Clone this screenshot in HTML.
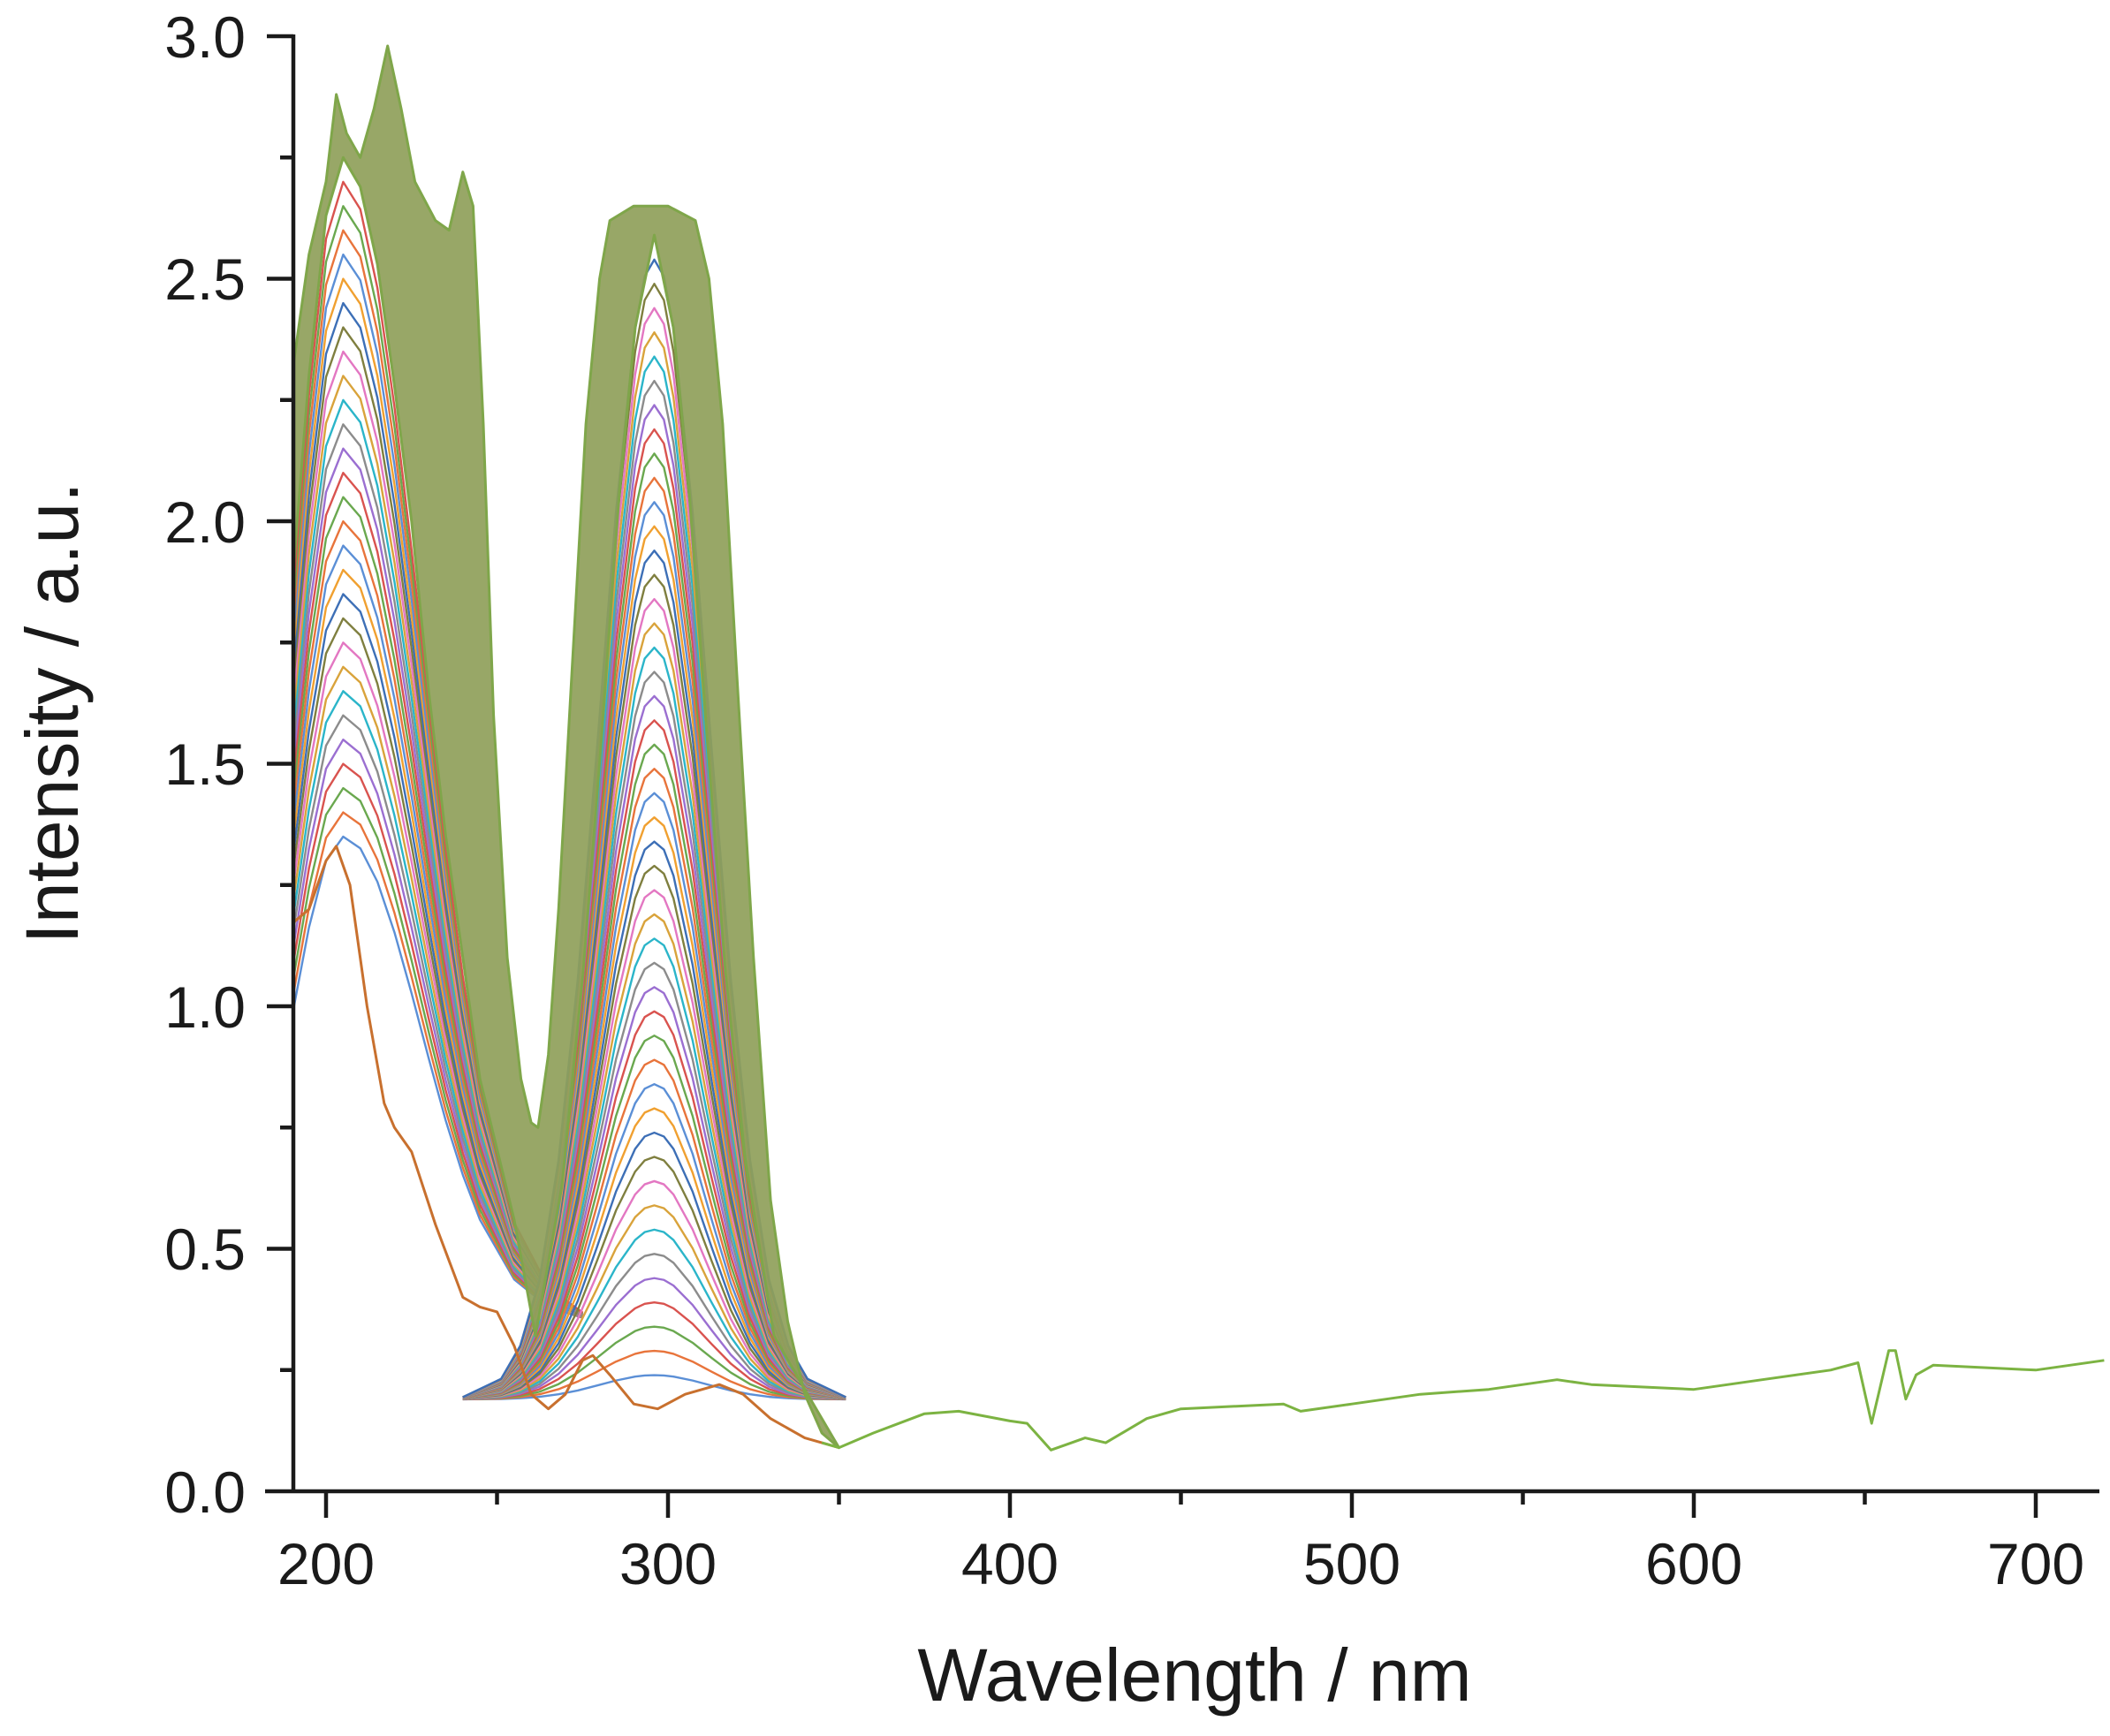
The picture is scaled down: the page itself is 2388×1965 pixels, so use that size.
<!DOCTYPE html>
<html><head><meta charset="utf-8"><style>
html,body{margin:0;padding:0;background:#fff;}
svg{display:block;}
text{font-family:"Liberation Sans",Arial,sans-serif;fill:#1a1a1a;}
</style></head><body>
<svg width="2388" height="1965" viewBox="0 0 2388 1965" xmlns="http://www.w3.org/2000/svg">
<defs>
<path id="gr" vector-effect="non-scaling-stroke" d="M-193.5,-1.1 L-154.8,-9.9 L-135.5,-25.8 L-116,-57.6 L-96.8,-115.3 L-77.4,-202 L-58,-313 L-38.7,-427.7 L-19.4,-515.5 L-9.7,-541 L0,-549 L9.7,-541 L19.4,-515.5 L38.7,-427.7 L58,-313 L77.4,-202 L96.8,-115.3 L116,-57.6 L135.5,-25.8 L154.8,-9.9 L193.5,-1.1"/>
<path id="gl" vector-effect="non-scaling-stroke" d="M-77.4,-240 L-58,-344.8 L-38.7,-446.3 L-19.4,-521.6 L0,-549 L19.4,-535.8 L38.7,-498 L58,-440.8 L77.4,-371.7 L96.8,-298.1 L116,-227.8 L135.5,-165.8 L154.8,-115.3 L193.5,-47.8 L232.2,-16.5 L270.9,-4.4"/>
<clipPath id="cp"><rect x="333" y="0" width="2100" height="1690"/></clipPath>
</defs>
<g clip-path="url(#cp)" fill="none" stroke-width="2.4" stroke-linejoin="round">
<g>
<use href="#gl" stroke="#5b8fd6" transform="translate(388.4,1496) scale(1,1.0)"/>
<use href="#gl" stroke="#e8743b" transform="translate(388.4,1496) scale(1,1.05)"/>
<use href="#gl" stroke="#6aa84f" transform="translate(388.4,1496) scale(1,1.1)"/>
<use href="#gl" stroke="#d9534f" transform="translate(388.4,1496) scale(1,1.15)"/>
<use href="#gl" stroke="#9b6fd1" transform="translate(388.4,1496) scale(1,1.2)"/>
<use href="#gl" stroke="#8c8c8c" transform="translate(388.4,1496) scale(1,1.25)"/>
<use href="#gl" stroke="#2bb5c9" transform="translate(388.4,1496) scale(1,1.3)"/>
<use href="#gl" stroke="#d9a33b" transform="translate(388.4,1496) scale(1,1.35)"/>
<use href="#gl" stroke="#e377c2" transform="translate(388.4,1496) scale(1,1.4)"/>
<use href="#gl" stroke="#7f7f3f" transform="translate(388.4,1496) scale(1,1.45)"/>
<use href="#gl" stroke="#3d6fb6" transform="translate(388.4,1496) scale(1,1.5)"/>
<use href="#gl" stroke="#f0a030" transform="translate(388.4,1496) scale(1,1.55)"/>
<use href="#gl" stroke="#5b8fd6" transform="translate(388.4,1496) scale(1,1.6)"/>
<use href="#gl" stroke="#e8743b" transform="translate(388.4,1496) scale(1,1.65)"/>
<use href="#gl" stroke="#6aa84f" transform="translate(388.4,1496) scale(1,1.7)"/>
<use href="#gl" stroke="#d9534f" transform="translate(388.4,1496) scale(1,1.75)"/>
<use href="#gl" stroke="#9b6fd1" transform="translate(388.4,1496) scale(1,1.8)"/>
<use href="#gl" stroke="#8c8c8c" transform="translate(388.4,1496) scale(1,1.85)"/>
<use href="#gl" stroke="#2bb5c9" transform="translate(388.4,1496) scale(1,1.9)"/>
<use href="#gl" stroke="#d9a33b" transform="translate(388.4,1496) scale(1,1.95)"/>
<use href="#gl" stroke="#e377c2" transform="translate(388.4,1496) scale(1,2.0)"/>
<use href="#gl" stroke="#7f7f3f" transform="translate(388.4,1496) scale(1,2.05)"/>
<use href="#gl" stroke="#3d6fb6" transform="translate(388.4,1496) scale(1,2.1)"/>
<use href="#gl" stroke="#f0a030" transform="translate(388.4,1496) scale(1,2.15)"/>
<use href="#gl" stroke="#5b8fd6" transform="translate(388.4,1496) scale(1,2.2)"/>
<use href="#gl" stroke="#e8743b" transform="translate(388.4,1496) scale(1,2.25)"/>
<use href="#gl" stroke="#6aa84f" transform="translate(388.4,1496) scale(1,2.3)"/>
<use href="#gl" stroke="#d9534f" transform="translate(388.4,1496) scale(1,2.35)"/>
</g>
<g>
<use href="#gr" stroke="#5b8fd6" transform="translate(740.5,1584) scale(1.12,0.05)"/>
<use href="#gr" stroke="#e8743b" transform="translate(740.5,1584) scale(1.12,0.1)"/>
<use href="#gr" stroke="#6aa84f" transform="translate(740.5,1584) scale(1.12,0.15)"/>
<use href="#gr" stroke="#d9534f" transform="translate(740.5,1584) scale(1.12,0.2)"/>
<use href="#gr" stroke="#9b6fd1" transform="translate(740.5,1584) scale(1.12,0.25)"/>
<use href="#gr" stroke="#8c8c8c" transform="translate(740.5,1584) scale(1.12,0.3)"/>
<use href="#gr" stroke="#2bb5c9" transform="translate(740.5,1584) scale(1.12,0.35)"/>
<use href="#gr" stroke="#d9a33b" transform="translate(740.5,1584) scale(1.12,0.4)"/>
<use href="#gr" stroke="#e377c2" transform="translate(740.5,1584) scale(1.12,0.45)"/>
<use href="#gr" stroke="#7f7f3f" transform="translate(740.5,1584) scale(1.12,0.5)"/>
<use href="#gr" stroke="#3d6fb6" transform="translate(740.5,1584) scale(1.12,0.55)"/>
<use href="#gr" stroke="#f0a030" transform="translate(740.5,1584) scale(1.12,0.6)"/>
<use href="#gr" stroke="#5b8fd6" transform="translate(740.5,1584) scale(1.12,0.65)"/>
<use href="#gr" stroke="#e8743b" transform="translate(740.5,1584) scale(1.12,0.7)"/>
<use href="#gr" stroke="#6aa84f" transform="translate(740.5,1584) scale(1.12,0.75)"/>
<use href="#gr" stroke="#d9534f" transform="translate(740.5,1584) scale(1.12,0.8)"/>
<use href="#gr" stroke="#9b6fd1" transform="translate(740.5,1584) scale(1.12,0.85)"/>
<use href="#gr" stroke="#8c8c8c" transform="translate(740.5,1584) scale(1.12,0.9)"/>
<use href="#gr" stroke="#2bb5c9" transform="translate(740.5,1584) scale(1.12,0.95)"/>
<use href="#gr" stroke="#d9a33b" transform="translate(740.5,1584) scale(1.12,1.0)"/>
<use href="#gr" stroke="#e377c2" transform="translate(740.5,1584) scale(1.12,1.05)"/>
<use href="#gr" stroke="#7f7f3f" transform="translate(740.5,1584) scale(1.12,1.1)"/>
<use href="#gr" stroke="#3d6fb6" transform="translate(740.5,1584) scale(1.12,1.15)"/>
<use href="#gr" stroke="#f0a030" transform="translate(740.5,1584) scale(1.12,1.2)"/>
<use href="#gr" stroke="#5b8fd6" transform="translate(740.5,1584) scale(1.12,1.25)"/>
<use href="#gr" stroke="#e8743b" transform="translate(740.5,1584) scale(1.12,1.3)"/>
<use href="#gr" stroke="#6aa84f" transform="translate(740.5,1584) scale(1.12,1.35)"/>
<use href="#gr" stroke="#d9534f" transform="translate(740.5,1584) scale(1.12,1.4)"/>
<use href="#gr" stroke="#9b6fd1" transform="translate(740.5,1584) scale(1.12,1.45)"/>
<use href="#gr" stroke="#8c8c8c" transform="translate(740.5,1584) scale(1.12,1.5)"/>
<use href="#gr" stroke="#2bb5c9" transform="translate(740.5,1584) scale(1.12,1.55)"/>
<use href="#gr" stroke="#d9a33b" transform="translate(740.5,1584) scale(1.12,1.6)"/>
<use href="#gr" stroke="#e377c2" transform="translate(740.5,1584) scale(1.12,1.65)"/>
<use href="#gr" stroke="#7f7f3f" transform="translate(740.5,1584) scale(1.12,1.7)"/>
<use href="#gr" stroke="#3d6fb6" transform="translate(740.5,1584) scale(1.12,1.75)"/>
<use href="#gr" stroke="#f0a030" transform="translate(740.5,1584) scale(1.12,1.8)"/>
<use href="#gr" stroke="#5b8fd6" transform="translate(740.5,1584) scale(1.12,1.85)"/>
<use href="#gr" stroke="#e8743b" transform="translate(740.5,1584) scale(1.12,1.9)"/>
<use href="#gr" stroke="#6aa84f" transform="translate(740.5,1584) scale(1.12,1.95)"/>
<use href="#gr" stroke="#d9534f" transform="translate(740.5,1584) scale(1.12,2.0)"/>
<use href="#gr" stroke="#9b6fd1" transform="translate(740.5,1584) scale(1.12,2.05)"/>
<use href="#gr" stroke="#8c8c8c" transform="translate(740.5,1584) scale(1.12,2.1)"/>
<use href="#gr" stroke="#2bb5c9" transform="translate(740.5,1584) scale(1.12,2.15)"/>
<use href="#gr" stroke="#d9a33b" transform="translate(740.5,1584) scale(1.12,2.2)"/>
<use href="#gr" stroke="#e377c2" transform="translate(740.5,1584) scale(1.12,2.25)"/>
<use href="#gr" stroke="#7f7f3f" transform="translate(740.5,1584) scale(1.12,2.3)"/>
<use href="#gr" stroke="#3d6fb6" transform="translate(740.5,1584) scale(1.12,2.35)"/>
</g>
<path stroke="#c8702e" stroke-width="3" d="M330.3,1045.7 L349.7,1029.2 L369,974.3 L380.6,957.8 L396.1,1001.8 L415.4,1139 L434.8,1248.8 L446.4,1276.3 L465.8,1303.7 L492.8,1386 L523.8,1468.4 L543.2,1479.4 L562.5,1484.9 L581.9,1523.3 L601.2,1578.2 L620.6,1594.7 L639.9,1578.2 L659.3,1539.8 L670.9,1534.3 L690.2,1556.2 L717.3,1589.2 L744.4,1594.7 L775.4,1578.2 L814,1567.2 L841.1,1578.2 L872.1,1605.7 L910.8,1627.6 L949.5,1638.6"/>
<path fill="#8fa05a" fill-opacity="0.92" stroke="#7fa64a" stroke-width="3" d="M330.3,425.3 L349.7,288.1 L369,205.7 L380.6,106.9 L392.2,150.8 L407.7,178.3 L423.2,123.4 L438.7,52 L454.1,123.4 L469.6,205.7 L492.8,249.6 L508.3,260.6 L523.8,194.7 L535.4,233.2 L547,480.2 L558.6,809.6 L574.1,1084.1 L589.6,1221.4 L601.2,1270.8 L608.9,1276.3 L620.6,1193.9 L632.2,1029.2 L647.6,754.7 L663.1,480.2 L678.6,315.5 L690.2,249.6 L717.3,233.2 L756,233.2 L787,249.6 L802.4,315.5 L817.9,480.2 L833.4,754.7 L852.8,1084.1 L872.1,1358.6 L891.5,1495.9 L910.8,1578.2 L930.2,1622.1 L949.5,1638.6 L910.8,1572.7 L876,1512.3 L843,1309.2 L821,1100.6 L800,831.6 L780,557.1 L762,370.4 L740.5,266.1 L719,370.4 L701,557.1 L681,831.6 L660,1100.6 L636,1342 L606,1512 L581.9,1380.6 L543.2,1221.4 L523.8,1084.1 L504.5,946.9 L485.1,782.2 L465.8,590 L446.4,436.3 L427.1,299.1 L407.7,211.2 L388.4,178.3 L369,244.1 L349.7,425.3 L330.3,666.9 Z"/>
<path stroke="#7cb342" stroke-width="3" d="M930.2,1633.1 L949.5,1638.6 L988.2,1622.1 L1046.3,1600.2 L1085,1597.4 L1143,1608.4 L1162.4,1611.1 L1189.4,1641.3 L1212.7,1633.1 L1228.1,1627.6 L1251.4,1633.1 L1297.8,1605.7 L1336.5,1594.7 L1452.6,1589.2 L1472,1597.4 L1530,1589.2 L1607.4,1578.2 L1684.8,1572.7 L1762.2,1561.7 L1800.9,1567.2 L1917,1572.7 L1994.4,1561.7 L2071.8,1550.8 L2102.8,1542.5 L2118.2,1611.1 L2126,1578.2 L2137.6,1528.8 L2145.3,1528.8 L2156.9,1583.7 L2168.6,1556.2 L2187.9,1545.3 L2304,1550.8 L2381.4,1539.8"/>
</g>
<g stroke="#1a1a1a" stroke-width="4.5" fill="none">
<line x1="332" y1="39" x2="332" y2="1690"/>
<line x1="300" y1="1688" x2="2376" y2="1688"/>
<line x1="302" y1="41" x2="332" y2="41"/><line x1="317" y1="178.25" x2="332" y2="178.25"/>
<line x1="302" y1="315.5" x2="332" y2="315.5"/><line x1="317" y1="452.75" x2="332" y2="452.75"/>
<line x1="302" y1="590" x2="332" y2="590"/><line x1="317" y1="727.25" x2="332" y2="727.25"/>
<line x1="302" y1="864.5" x2="332" y2="864.5"/><line x1="317" y1="1001.75" x2="332" y2="1001.75"/>
<line x1="302" y1="1139" x2="332" y2="1139"/><line x1="317" y1="1276.25" x2="332" y2="1276.25"/>
<line x1="302" y1="1413.5" x2="332" y2="1413.5"/><line x1="317" y1="1550.75" x2="332" y2="1550.75"/>
<line x1="369" y1="1688" x2="369" y2="1718"/><line x1="562.5" y1="1688" x2="562.5" y2="1703"/>
<line x1="756" y1="1688" x2="756" y2="1718"/><line x1="949.5" y1="1688" x2="949.5" y2="1703"/>
<line x1="1143" y1="1688" x2="1143" y2="1718"/><line x1="1336.5" y1="1688" x2="1336.5" y2="1703"/>
<line x1="1530" y1="1688" x2="1530" y2="1718"/><line x1="1723.5" y1="1688" x2="1723.5" y2="1703"/>
<line x1="1917" y1="1688" x2="1917" y2="1718"/><line x1="2110.5" y1="1688" x2="2110.5" y2="1703"/>
<line x1="2304" y1="1688" x2="2304" y2="1718"/>
</g>
<g font-size="66" text-anchor="end">
<text x="278" y="65">3.0</text>
<text x="278" y="339">2.5</text>
<text x="278" y="614">2.0</text>
<text x="278" y="888">1.5</text>
<text x="278" y="1163">1.0</text>
<text x="278" y="1437">0.5</text>
<text x="278" y="1712">0.0</text>
</g>
<g font-size="66" text-anchor="middle">
<text x="369" y="1793">200</text>
<text x="756" y="1793">300</text>
<text x="1143" y="1793">400</text>
<text x="1530" y="1793">500</text>
<text x="1917" y="1793">600</text>
<text x="2304" y="1793">700</text>
</g>
<text x="1352" y="1925" font-size="84" text-anchor="middle">Wavelength / nm</text>
<text transform="translate(88,807) rotate(-90)" font-size="84" text-anchor="middle">Intensity / a.u.</text>
</svg>
</body></html>
